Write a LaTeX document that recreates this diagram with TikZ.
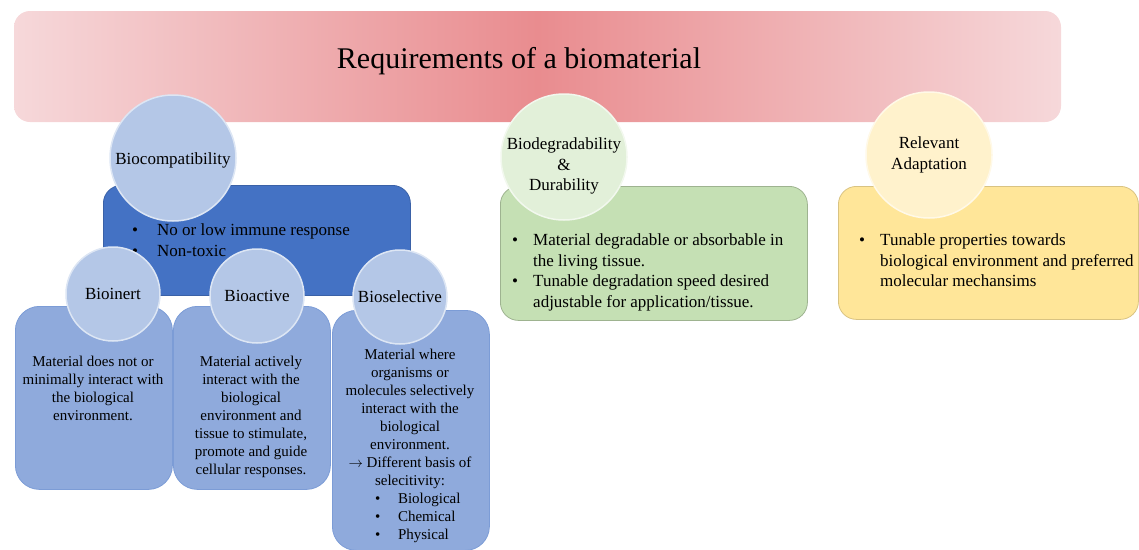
\documentclass[tikz,border=0pt]{standalone}
\usepackage{fontspec}
\setmainfont{Liberation Serif}

\definecolor{titlepale}{HTML}{F6D8DA}
\definecolor{titledeep}{HTML}{E98C8F}
\definecolor{bluedeep}{HTML}{4472C4}
\definecolor{bluemid}{HTML}{8FAADC}
\definecolor{bluepale}{HTML}{B4C7E7}
\definecolor{greenpale}{HTML}{E2F0D9}
\definecolor{greenmid}{HTML}{C5E0B4}
\definecolor{yellowpale}{HTML}{FFF2CC}
\definecolor{yellowmid}{HTML}{FFE699}

\newcommand{\bul}[1][21pt]{\makebox[#1][l]{\textbullet}}

\begin{document}
\begin{tikzpicture}[x=1pt,y=-1pt,
    card/.style={rounded corners=#1, line width=0.8pt, anchor=north west, inner sep=0pt},
    card/.default=18pt,
    disc/.style={circle, inner sep=0pt, fill=#1, draw=white!55!#1, line width=1.5pt},
    big/.style={minimum size=126pt, font=\fontsize{17}{20.5}\selectfont},
    small/.style={minimum size=94pt, font=\fontsize{17}{20.5}\selectfont},
    txt/.style={inner sep=0pt, anchor=north, font=\fontsize{15}{18}\selectfont},
    lst/.style={inner sep=0pt, anchor=north west, font=\fontsize{17}{20.5}\selectfont}]
    \useasboundingbox (0,0) rectangle (1139,549);

    % title bar
    \node[rounded corners=16pt, minimum width=1047pt, minimum height=111pt, inner sep=0pt,
        left color=titlepale, right color=titlepale, middle color=titledeep] (titleBar) at (537.5,66.5) {};
    \node[font=\fontsize{30}{36}\selectfont] (titleText) at (519,61) {Requirements of a biomaterial};

    % biocompatibility branch
    \node[card, minimum width=307pt, minimum height=110pt, fill=bluedeep, draw=bluedeep!85!black] (compBox) at (103,185) {};
    \node[card=24pt, minimum width=157pt, minimum height=183pt, fill=bluemid, draw=bluedeep!70] (inertBox) at (15,306) {};
    \node[card=24pt, minimum width=157pt, minimum height=183pt, fill=bluemid, draw=bluedeep!70] (activeBox) at (173,306) {};
    \node[card=24pt, minimum width=157pt, minimum height=240pt, fill=bluemid, draw=bluedeep!70] (selectBox) at (332,310) {};

    \node[disc=bluepale, big] (compDisc) at (173,158) {};
    \node[font=\fontsize{17}{20.5}\selectfont] (compText) at (173,160) {Biocompatibility};
    \node[lst] (compList) at (132,221) {\begin{tabular}{@{}l@{}}
        \bul[25pt]No or low immune response\\
        \bul[25pt]Non-toxic
    \end{tabular}};

    \node[disc=bluepale, small] (inertDisc) at (113,294) {Bioinert};
    \node[disc=bluepale, small] (activeDisc) at (257,296) {Bioactive};
    \node[disc=bluepale, small] (selectDisc) at (400,297) {Bioselective};

    \node[txt] (inertText) at (93,354) {\begin{tabular}{@{}c@{}}
        Material does not or\\ minimally interact with\\ the biological\\ environment.
    \end{tabular}};
    \node[txt] (activeText) at (251,354) {\begin{tabular}{@{}c@{}}
        Material actively\\ interact with the\\ biological\\ environment and\\
        tissue to stimulate,\\ promote and guide\\ cellular responses.
    \end{tabular}};
    \node[txt] (selectText) at (410,347) {\begin{tabular}{@{}c@{}}
        Material where\\ organisms or\\ molecules selectively\\ interact with the\\
        biological\\ environment.\\ $\rightarrow$ Different basis of\\ selecitivity:\\
        \makebox[70pt][l]{\bul[23pt]Biological}\\
        \makebox[70pt][l]{\bul[23pt]Chemical}\\
        \makebox[70pt][l]{\bul[23pt]Physical}
    \end{tabular}};

    % biodegradability branch
    \node[card, minimum width=307pt, minimum height=134pt, fill=greenmid, draw=greenmid!80!black] (degBox) at (500,186) {};
    \node[disc=greenpale, big] (degDisc) at (564,157) {};
    \node[font=\fontsize{17}{20.5}\selectfont, align=center] (degText) at (564,166) {Biodegradability\\ \&\\ Durability};
    \node[lst] (degList) at (512,231) {\begin{tabular}{@{}l@{}}
        \bul Material degradable or absorbable in\\
        \hspace{21pt}the living tissue.\\
        \bul Tunable degradation speed desired\\
        \hspace{21pt}adjustable for application/tissue.
    \end{tabular}};

    % adaptation branch
    \node[card, minimum width=300pt, minimum height=133pt, fill=yellowmid, draw=yellowmid!85!black] (adaptBox) at (838,186) {};
    \node[disc=yellowpale, big] (adaptDisc) at (929,155) {};
    \node[font=\fontsize{17}{20.5}\selectfont, align=center] (adaptText) at (929,155) {Relevant\\ Adaptation};
    \node[lst] (adaptList) at (859,231) {\begin{tabular}{@{}l@{}}
        \bul Tunable properties towards\\
        \hspace{21pt}biological environment and preferred\\
        \hspace{21pt}molecular mechansims
    \end{tabular}};
\end{tikzpicture}
\end{document}
